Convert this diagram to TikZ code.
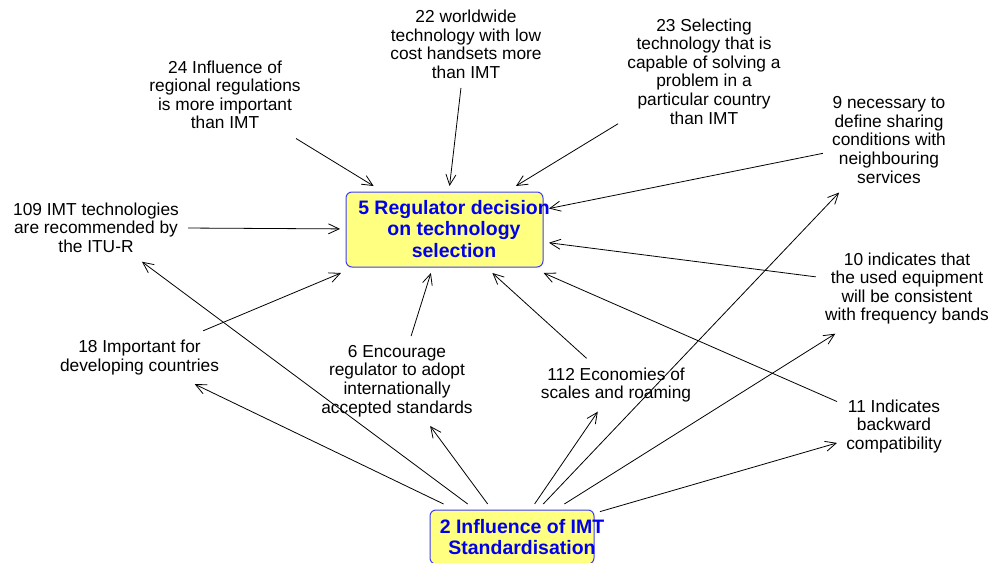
\documentclass[tikz,border=0pt]{standalone}
\usepackage{fontspec}
\setmainfont{Liberation Sans}
\usetikzlibrary{arrows.meta}
\definecolor{boxfill}{RGB}{255,255,128}
\definecolor{boxline}{RGB}{60,60,255}
\definecolor{boxtext}{RGB}{0,0,235}
\begin{document}
\begin{tikzpicture}[x=0.75pt,y=-0.75pt,
  lbl/.style={align=center,font=\fontsize{13}{13.9}\selectfont,inner sep=2pt,outer sep=5pt},
  keybox/.style={draw=boxline,fill=boxfill,rounded corners=4.5pt,line width=0.75pt,outer sep=4.5pt,inner sep=0pt},
  keytext/.style={align=center,text=boxtext,font=\fontsize{14.6}{15.8}\selectfont\bfseries,inner sep=0pt},
  conn/.style={draw=black,line width=0.6pt,-{Straight Barb[length=8pt,width=7.5pt]}}]
\useasboundingbox (0,0) rectangle (991,563);
\node[keybox,minimum width=147.75pt,minimum height=56.25pt] (reg) at (444.5,229.5) {};
\node[keytext] (regt) at (454,229) {5 Regulator decision\\on technology\\selection};
\node[keybox,minimum width=123pt,minimum height=40.5pt] (imt) at (512,537) {};
\node[keytext] (imtt) at (522,537) {2 Influence of IMT\\Standardisation};
\node[lbl] (l24) at (225,95) {24 Influence of\\regional regulations\\is more important\\than IMT};
\node[lbl] (l22) at (466,44.5) {22 worldwide\\technology with low\\cost handsets more\\than IMT};
\node[lbl] (l23) at (704,71.5) {23 Selecting\\technology that is\\capable of solving a\\problem in a\\particular country\\than IMT};
\node[lbl] (l9) at (889,140) {9 necessary to\\define sharing\\conditions with\\neighbouring\\services};
\node[lbl] (l10) at (907,288.5) {10 indicates that\\the used equipment\\will be consistent\\with frequency bands};
\node[lbl] (l11) at (894,426.5) {11 Indicates\\backward\\compatibility};
\node[lbl] (l109) at (96,227.5) {109 IMT technologies\\are recommended by\\the ITU-R};
\node[lbl] (l18) at (139.5,357.5) {18 Important for\\developing countries};
\node[lbl] (l6) at (397,381) {6 Encourage\\regulator to adopt\\internationally\\accepted standards};
\node[lbl] (l112) at (616,385) {112 Economies of\\scales and roaming};
\foreach \s in {l24,l22,l23,l9,l109,l18,l6,l112,l10,l11}
  \draw[conn] (\s) -- (reg);
\foreach \t in {l109,l18,l6,l112,l9,l10,l11}
  \draw[conn] (imt) -- (\t);
\end{tikzpicture}
\end{document}
